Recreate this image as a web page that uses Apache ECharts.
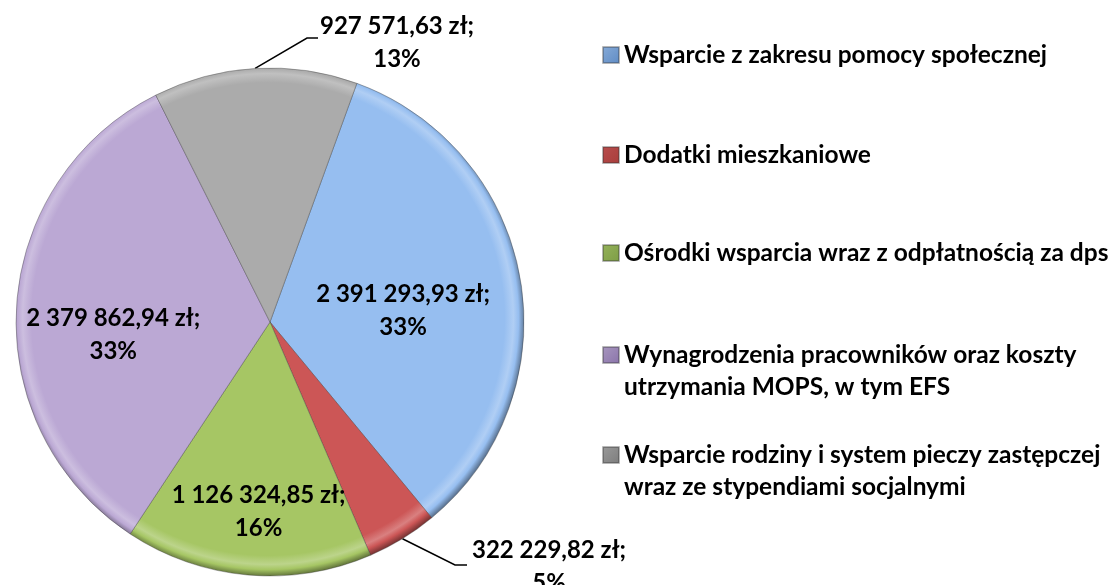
<!DOCTYPE html>
<html>
<head>
<meta charset="utf-8">
<script src="https://cdn.jsdelivr.net/npm/echarts@6/dist/echarts.min.js"></script>
<style>
  html, body { margin: 0; padding: 0; background: #fff; }
  #chart { width: 1116px; height: 585px; }
</style>
</head>
<body>
<div id="chart"></div>
<script>
// dane wykresu
const categories = [
  'Wsparcie z zakresu pomocy społecznej',
  'Dodatki mieszkaniowe',
  'Ośrodki wsparcia wraz z odpłatnością za dps',
  'Wynagrodzenia pracowników oraz koszty utrzymania MOPS, w tym EFS',
  'Wsparcie rodziny i system pieczy zastępczej wraz ze stypendiami socjalnymi'
];
const values = [2391293.93, 322229.82, 1126324.85, 2379862.94, 927571.63];
const colors = ['#96bef0', '#cc5656', '#a6c664', '#bba8d4', '#ababab'];
const iconColors = ['#5f8bc4', '#a83d3b', '#7d9d45', '#8a73aa', '#7c7c7c'];

const CX = 270, CY = 322, R = 254;
const FONT = 'Lato';

function fmt(v) {
  const parts = v.toFixed(2).split('.');
  return parts[0].replace(/\B(?=(\d{3})+(?!\d))/g, ' ') + ',' + parts[1];
}

// mieszanie koloru z bielą (k>0) lub czernią (k<0)
function mix(c, k) {
  const rgb = echarts.color.parse(c);
  const t = k > 0 ? 255 : 0, a = Math.abs(k);
  return 'rgb(' + rgb.slice(0, 3).map(v => Math.round(v + (t - v) * a)).join(',') + ')';
}

function shade(c) {
  return new echarts.graphic.RadialGradient(CX - 2, CY - 3, R + 3, [
    { offset: 0, color: c },
    { offset: 0.92, color: c },
    { offset: 0.955, color: mix(c, 0.25) },
    { offset: 0.975, color: c },
    { offset: 1, color: mix(c, -0.4) }
  ], true);
}

const chart = echarts.init(document.getElementById('chart'));

// 0,2,3 wewnątrz, 1 i 4 na zewnątrz z linią
const outside = [false, true, false, false, true];

const pieData = categories.map((name, i) => ({
  name: name,
  value: values[i],
  itemStyle: { color: shade(colors[i]) },
  label: { position: outside[i] ? 'outside' : 'inside' },
  labelLine: { show: outside[i] }
}));

// pozycje etykiet dopasowane do oryginału
function placeLabel(p) {
  const i = p.dataIndex;
  if (i === 0) return { dx: 5, dy: 11 };
  if (i === 2) return { dx: 0, dy: 60 };
  if (i === 3) return { dx: -27, dy: 20 };
  const start = p.labelLinePoints ? p.labelLinePoints[0] : [CX, CY];
  if (i === 4) {
    return {
      x: 397, y: 43, align: 'center', verticalAlign: 'middle',
      labelLinePoints: [start, [307, 38], [318, 38]]
    };
  }
  if (i === 1) {
    return {
      x: 549, y: 567, align: 'center', verticalAlign: 'middle',
      labelLinePoints: [start, [455, 565], [467, 565]]
    };
  }
  return {};
}

// ikona legendy przy pierwszej linii: pusta linia na górze wyrównuje tekst
const legendCenters = [55, 155, 253, 355, 455];
const legends = categories.map((name, i) => {
  const twoLines = i >= 3;
  return {
    data: [name],
    left: 602,
    top: legendCenters[i] - (twoLines ? 48 : 16),
    padding: 0,
    orient: 'vertical',
    itemWidth: 16,
    itemHeight: 16,
    selectedMode: false,
    icon: 'rect',
    itemStyle: {
      color: new echarts.graphic.LinearGradient(0, 0, 1, 1, [
        { offset: 0, color: mix(colors[i], -0.1) },
        { offset: 1, color: iconColors[i] }
      ])
    },
    formatter: n => {
      const t = n.replace(' utrzymania', '\nutrzymania').replace(' wraz ze', '\nwraz ze');
      return twoLines ? ' \n' + t : t;
    },
    textStyle: {
      fontFamily: FONT,
      fontWeight: 'bold',
      fontSize: 24.5,
      lineHeight: 32,
      color: '#000'
    }
  };
});

chart.setOption({
  animation: false,
  legend: legends,
  series: [{
    type: 'pie',
    center: [CX, CY],
    radius: R,
    startAngle: 70,
    clockwise: true,
    avoidLabelOverlap: false,
    itemStyle: {
      borderColor: 'rgba(50,50,50,0.35)',
      borderWidth: 1
    },
    label: {
      show: true,
      color: '#000',
      fontFamily: FONT,
      fontWeight: 'bold',
      fontSize: 24,
      lineHeight: 33,
      align: 'center',
      formatter: p => fmt(p.value) + ' zł;\n' + Math.round(p.percent) + '%'
    },
    labelLine: {
      length: 20,
      length2: 12,
      lineStyle: { color: '#000', width: 1.5 }
    },
    labelLayout: placeLabel,
    data: pieData
  }]
});
</script>
</body>
</html>
